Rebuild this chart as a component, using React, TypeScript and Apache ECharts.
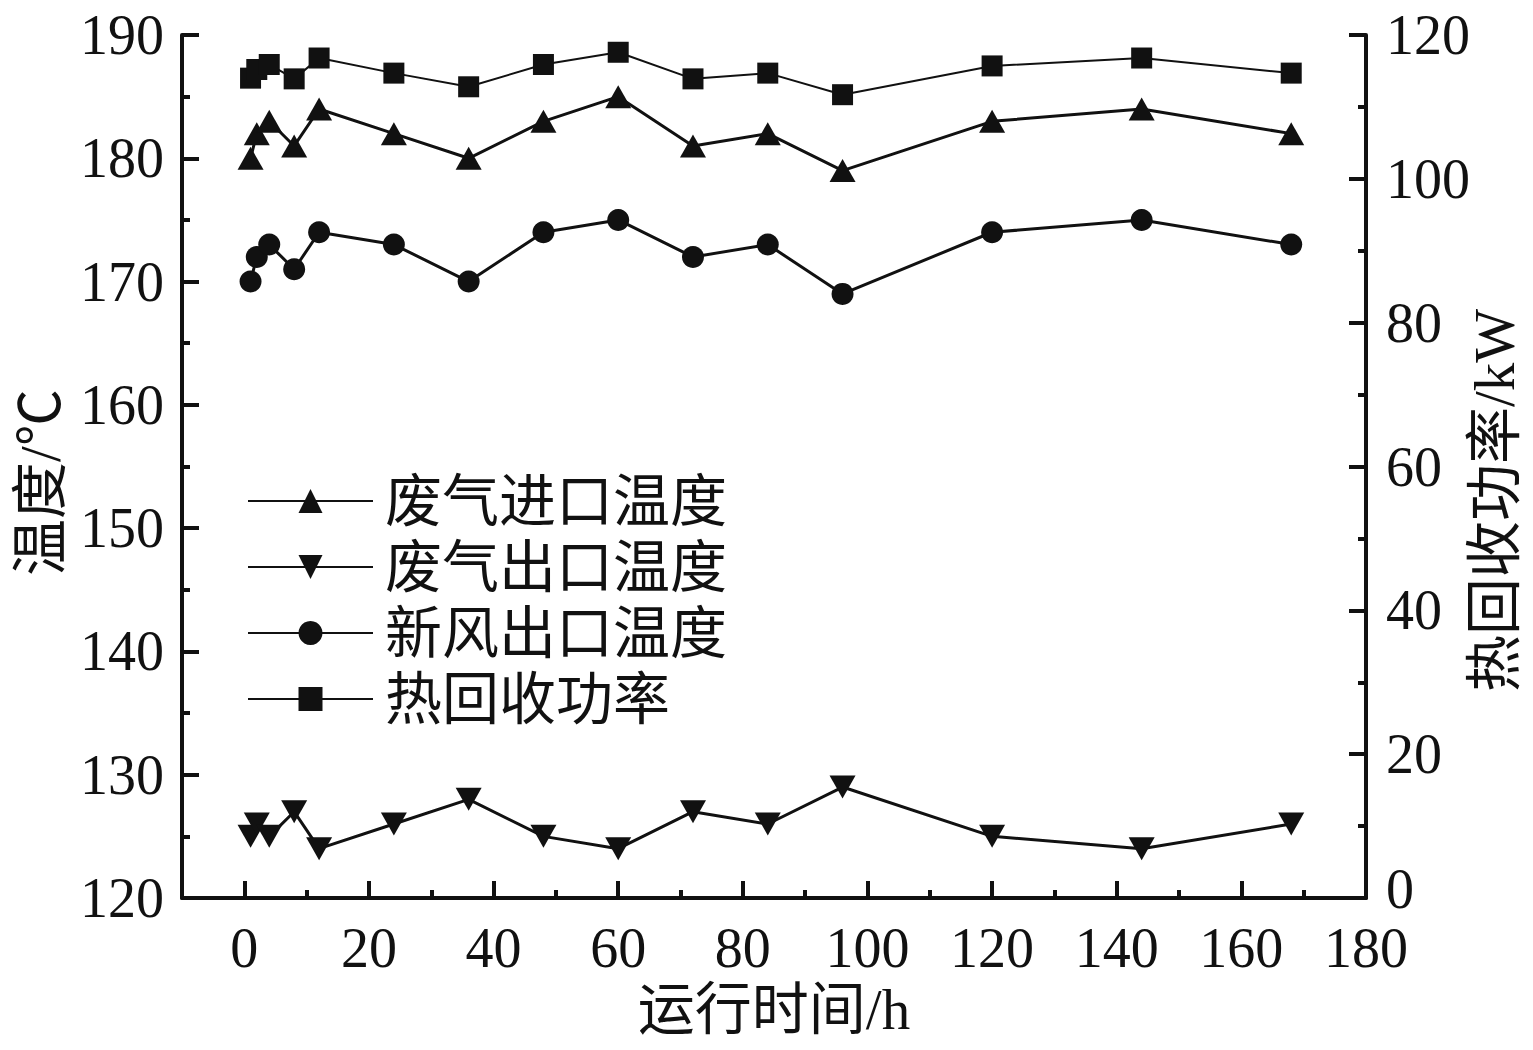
import React, { useEffect, useRef } from "react";
import * as echarts from "echarts";

const hours = [1, 2, 4, 8, 12, 24, 36, 48, 60, 72, 84, 96, 120, 144, 168];
const exhaustInletTemp = [180, 182, 183, 181, 184, 182, 180, 183, 185, 181, 182, 179, 183, 184, 182];
const exhaustOutletTemp = [125, 126, 125, 127, 124, 126, 128, 125, 124, 127, 126, 129, 125, 124, 126];
const freshAirOutletTemp = [170, 172, 173, 171, 174, 173, 170, 174, 175, 172, 173, 169, 174, 175, 173];
const heatRecoveryPower = [114.0, 115.2, 115.9, 113.9, 116.8, 114.7, 112.8, 115.9, 117.6, 113.9, 114.7, 111.7, 115.7, 116.8, 114.7];
const xMajorTicks = [0, 20, 40, 60, 80, 100, 120, 140, 160, 180];
const seriesNames = ["废气进口温度", "废气出口温度", "新风出口温度", "热回收功率"];
const axisNames = { x: "运行时间/h", yLeft: "温度/℃", yRight: "热回收功率/kW" };

const FONT = '"Liberation Serif", "Times New Roman", "Noto Sans CJK SC", serif';
const INK = "#111";

function pairs(ys: number[]) {
  return hours.map((h, i) => [h, ys[i]]);
}

export default function App() {
  const ref = useRef<HTMLDivElement>(null);
  useEffect(() => {
    document.body.style.margin = "0";
    document.documentElement.style.overflow = "hidden";
    document.body.style.overflow = "hidden";
    const chart = echarts.init(ref.current!, null, { renderer: "svg", width: 1533, height: 1050 });
    const axisLine = { show: true, onZero: false, lineStyle: { color: INK, width: 4 } };
    const label = { color: INK, fontFamily: FONT, fontSize: 56, lineHeight: 44 };
    const nameStyle = { color: INK, fontFamily: FONT, fontSize: 57 };
    chart.setOption({
      animation: false,
      backgroundColor: "#fff",
      grid: { left: 182, right: 167, top: 35, bottom: 152, containLabel: false, outerBoundsMode: "none" },
      legend: {
        orient: "vertical",
        left: 242,
        top: 466,
        itemWidth: 125,
        itemHeight: 30,
        itemGap: 6,
        data: seriesNames,
        textStyle: { color: INK, fontFamily: FONT, fontSize: 57, lineHeight: 60, padding: [0, 0, 0, 7] },
      },
      xAxis: [
        {
          type: "value",
          min: -10,
          max: 180,
          interval: 10,
          position: "bottom",
          axisLine,
          axisTick: { show: true, inside: true, length: 8, lineStyle: { color: INK, width: 4 } },
          axisLabel: {
            ...label,
            margin: 28,
            formatter: (v: number) => (v % 20 === 0 && v >= 0 ? String(v) : ""),
          },
          splitLine: { show: false },
          name: axisNames.x,
          nameLocation: "middle",
          nameGap: 80,
          nameTextStyle: nameStyle,
        },
        {
          type: "value",
          min: -10,
          max: 180,
          position: "bottom",
          axisLine: { show: false },
          axisTick: { show: true, inside: true, length: 17, customValues: xMajorTicks, lineStyle: { color: INK, width: 4 } },
          axisLabel: { show: false },
          splitLine: { show: false },
        },
      ],
      yAxis: [
        {
          type: "value",
          min: 120,
          max: 190,
          interval: 10,
          position: "left",
          axisLine,
          axisTick: { show: true, inside: true, length: 17, lineStyle: { color: INK, width: 4 } },
          minorTick: { show: true, splitNumber: 2, length: 8, lineStyle: { color: INK, width: 4 } },
          axisLabel: { ...label, lineHeight: 36, margin: 18 },
          splitLine: { show: false },
          name: axisNames.yLeft,
          nameLocation: "middle",
          nameRotate: 90,
          nameGap: 112,
          nameTextStyle: { ...nameStyle, padding: [0, 32, 0, 0] },
        },
        {
          type: "value",
          min: 0,
          max: 120,
          interval: 20,
          position: "right",
          axisLine,
          axisTick: { show: true, inside: true, length: 17, lineStyle: { color: INK, width: 4 } },
          minorTick: { show: true, splitNumber: 2, length: 8, lineStyle: { color: INK, width: 4 } },
          axisLabel: {
            ...label,
            lineHeight: 36,
            margin: 20,
            formatter: (v: number) => (v === 0 ? "{low|0}" : String(v)),
            rich: {
              low: { color: INK, fontFamily: FONT, fontSize: 56, lineHeight: 36, padding: [0, 0, 18, 0] },
            },
          },
          splitLine: { show: false },
          name: axisNames.yRight,
          nameLocation: "middle",
          nameRotate: 90,
          nameGap: 100,
          nameMoveOverlap: false,
          nameTextStyle: { ...nameStyle, padding: [0, 68, 0, 0] },
        },
      ],
      series: [
        {
          name: seriesNames[0],
          type: "line",
          data: pairs(exhaustInletTemp),
          symbol: "triangle",
          symbolSize: [26, 23],
          lineStyle: { color: INK, width: 3 },
          itemStyle: { color: INK },
        },
        {
          name: seriesNames[1],
          type: "line",
          data: pairs(exhaustOutletTemp),
          symbol: "path://M0,0L2,0L1,2Z",
          symbolSize: [26, 23],
          lineStyle: { color: INK, width: 3 },
          itemStyle: { color: INK },
        },
        {
          name: seriesNames[2],
          type: "line",
          data: pairs(freshAirOutletTemp),
          symbol: "circle",
          symbolSize: 22,
          lineStyle: { color: INK, width: 3 },
          itemStyle: { color: INK },
        },
        {
          name: seriesNames[3],
          type: "line",
          yAxisIndex: 1,
          data: pairs(heatRecoveryPower),
          symbol: "rect",
          symbolSize: 21,
          lineStyle: { color: INK, width: 2 },
          itemStyle: { color: INK },
        },
      ],
    });
    return () => chart.dispose();
  }, []);
  return (
    <div
      ref={ref}
      style={{ position: "fixed", left: 0, top: 0, width: 1533, height: 1050, overflow: "hidden" }}
    />
  );
}
